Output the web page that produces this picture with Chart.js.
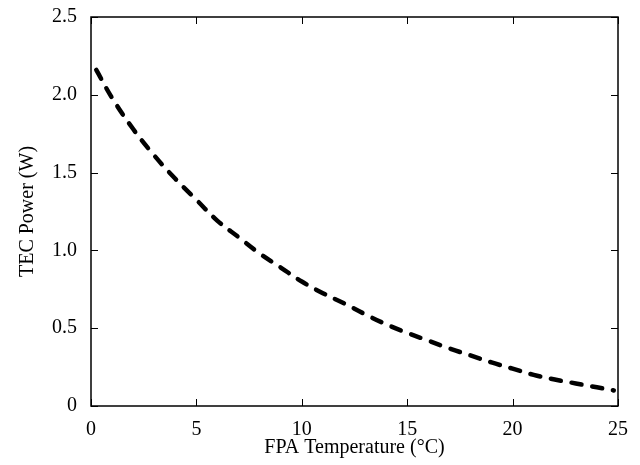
<!DOCTYPE html>
<html lang="en">
<head>
    <meta charset="UTF-8" />
    <title>TEC Power vs FPA Temperature</title>
    <script src="https://cdn.jsdelivr.net/npm/chart.js"></script>
    <style>
        body {
            margin: 0;
            padding: 0;
            background: #fff;
        }
        .chart-box {
            width: 640px;
            height: 465px;
        }
    </style>
</head>
<body>
    <div class="chart-box">
        <canvas id="tecChart"></canvas>
    </div>

    <script>
        // values
        const fpaTemp = [0.25, 1, 2, 3, 4, 5, 6, 7, 8, 9, 10, 11, 12, 13, 14, 15, 16, 17, 18, 19, 20, 21, 22, 23, 24, 24.8];
        const tecPower = [2.16, 1.98, 1.78, 1.61, 1.46, 1.325, 1.19, 1.085, 0.98, 0.89, 0.80, 0.725, 0.66, 0.59, 0.525, 0.47, 0.42, 0.37, 0.325, 0.28, 0.24, 0.20, 0.17, 0.145, 0.12, 0.10];
        const xTicks = [0, 5, 10, 15, 20, 25];
        const yTicks = [0, 0.5, 1.0, 1.5, 2.0, 2.5];

        const serif = "'Liberation Serif', 'DejaVu Serif', serif";

        // frame + inward ticks on all four sides
        const frameTicks = {
            id: 'frameTicks',
            afterDraw(chart) {
                const { ctx, chartArea: a, scales } = chart;
                const len = 7;
                ctx.save();
                ctx.strokeStyle = '#000';
                ctx.lineWidth = 1.5;
                ctx.strokeRect(a.left, a.top, a.right - a.left, a.bottom - a.top);
                ctx.lineWidth = 1;
                ctx.beginPath();
                xTicks.forEach(v => {
                    const px = Math.round(scales.x.getPixelForValue(v)) + 0.5;
                    ctx.moveTo(px, a.bottom); ctx.lineTo(px, a.bottom - len);
                    ctx.moveTo(px, a.top); ctx.lineTo(px, a.top + len);
                });
                yTicks.forEach(v => {
                    const py = Math.round(scales.y.getPixelForValue(v)) + 0.5;
                    ctx.moveTo(a.left, py); ctx.lineTo(a.left + len, py);
                    ctx.moveTo(a.right, py); ctx.lineTo(a.right - len, py);
                });
                ctx.stroke();
                ctx.restore();
            }
        };

        new Chart(document.getElementById('tecChart'), {
            type: 'scatter',
            data: {
                datasets: [{
                    data: fpaTemp.map((x, i) => ({ x: x, y: tecPower[i] })),
                    showLine: true,
                    borderColor: '#000',
                    borderWidth: 4.5,
                    borderDash: [10, 11],
                    borderCapStyle: 'round',
                    pointRadius: 0,
                    tension: 0.4,
                    fill: false
                }]
            },
            options: {
                responsive: true,
                maintainAspectRatio: false,
                animation: false,
                layout: { padding: { left: 0, top: 17, right: 22, bottom: 0 } },
                plugins: {
                    legend: { display: false },
                    tooltip: { enabled: false }
                },
                scales: {
                    x: {
                        type: 'linear',
                        min: 0,
                        max: 25,
                        afterBuildTicks: s => { s.ticks = xTicks.map(v => ({ value: v })); },
                        afterFit: s => { s.height = 59; s.paddingLeft = 0; s.paddingRight = 0; },
                        grid: { display: false, drawTicks: false },
                        border: { display: false },
                        ticks: {
                            color: '#000',
                            padding: 12,
                            maxRotation: 0,
                            font: { family: serif, size: 20 },
                            callback: v => String(v)
                        },
                        title: {
                            display: true,
                            text: 'FPA Temperature (°C)',
                            color: '#000',
                            padding: { top: 0, bottom: 5 },
                            font: { family: serif, size: 20 }
                        }
                    },
                    y: {
                        type: 'linear',
                        min: 0,
                        max: 2.5,
                        afterBuildTicks: s => { s.ticks = yTicks.map(v => ({ value: v })); },
                        afterFit: s => { s.width = 91; s.paddingTop = 0; s.paddingBottom = 0; },
                        grid: { display: false, drawTicks: false },
                        border: { display: false },
                        ticks: {
                            color: '#000',
                            padding: 14,
                            font: { family: serif, size: 20 },
                            callback: v => v === 0 ? '0' : v.toFixed(1)
                        },
                        title: {
                            display: true,
                            text: 'TEC Power (W)',
                            color: '#000',
                            padding: { top: 16, bottom: 0 },
                            font: { family: serif, size: 20 }
                        }
                    }
                }
            },
            plugins: [frameTicks]
        });
    </script>
</body>
</html>
